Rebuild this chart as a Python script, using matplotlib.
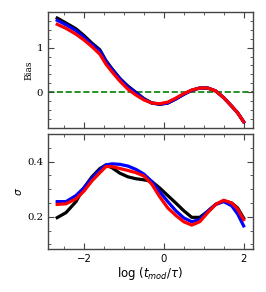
import numpy as np
import matplotlib
matplotlib.use("Agg")
from matplotlib import pyplot as plt
from matplotlib.ticker import MultipleLocator

# valores
logt = [-2.67, -2.45, -2.2, -2.0, -1.8, -1.6, -1.45, -1.3, -1.1, -0.9, -0.7, -0.5,
        -0.3, -0.1, 0.1, 0.3, 0.5, 0.7, 0.9, 1.1, 1.3, 1.5, 1.7, 1.85, 2.0]

bias_negro = [1.66, 1.55, 1.42, 1.27, 1.10, 0.95, 0.71, 0.53, 0.31, 0.14, 0.00, -0.14,
              -0.24, -0.27, -0.24, -0.15, -0.045, 0.045, 0.095, 0.095, 0.03, -0.12, -0.31, -0.46, -0.66]
bias_azul = [1.61, 1.51, 1.38, 1.23, 1.07, 0.92, 0.69, 0.51, 0.30, 0.12, -0.01, -0.15,
             -0.24, -0.265, -0.24, -0.15, -0.045, 0.045, 0.095, 0.095, 0.03, -0.12, -0.31, -0.46, -0.66]
bias_rojo = [1.52, 1.43, 1.30, 1.17, 1.02, 0.85, 0.63, 0.46, 0.25, 0.07, -0.06, -0.17,
             -0.24, -0.255, -0.22, -0.13, -0.03, 0.05, 0.095, 0.095, 0.03, -0.12, -0.31, -0.46, -0.66]

sigma_negro = [0.197, 0.215, 0.255, 0.305, 0.345, 0.375, 0.388, 0.378, 0.358, 0.345, 0.338, 0.334,
               0.328, 0.304, 0.277, 0.25, 0.222, 0.198, 0.198, 0.22, 0.245, 0.258, 0.25, 0.232, 0.195]
sigma_azul = [0.255, 0.255, 0.277, 0.305, 0.34, 0.37, 0.388, 0.392, 0.39, 0.384, 0.372, 0.355,
              0.328, 0.29, 0.255, 0.222, 0.196, 0.182, 0.19, 0.22, 0.245, 0.255, 0.24, 0.21, 0.167]
sigma_rojo = [0.245, 0.247, 0.265, 0.293, 0.33, 0.36, 0.382, 0.382, 0.375, 0.368, 0.36, 0.348,
              0.318, 0.272, 0.232, 0.205, 0.182, 0.17, 0.182, 0.215, 0.245, 0.26, 0.25, 0.228, 0.19]

fig = plt.figure(figsize=(2.66, 2.92), dpi=100)
ax1 = fig.add_axes([0.180, 0.563, 0.771, 0.395])
ax2 = fig.add_axes([0.180, 0.147, 0.771, 0.394], sharex=ax1)

ax1.axhline(0, color="green", ls="--", lw=1.2, zorder=1)
for ax, curvas in ((ax1, (bias_negro, bias_azul, bias_rojo)), (ax2, (sigma_negro, sigma_azul, sigma_rojo))):
    for y, c in zip(curvas, ("k", "b", "r")):
        ax.plot(logt, y, color=c, lw=2.3, zorder=2)

ax1.set_ylim(-0.79, 1.79)
ax2.set_ylim(0.083, 0.50)

ax1.yaxis.set_major_locator(MultipleLocator(1))
ax1.yaxis.set_minor_locator(MultipleLocator(0.2))
ax2.yaxis.set_major_locator(MultipleLocator(0.2))
ax2.yaxis.set_minor_locator(MultipleLocator(0.05))
ax2.xaxis.set_major_locator(MultipleLocator(2))
ax2.xaxis.set_minor_locator(MultipleLocator(0.5))

for ax in (ax1, ax2):
    ax.tick_params(which="both", direction="in", top=True, right=True, color="#444444")
    ax.tick_params(which="major", length=4.5, width=0.8, labelsize=7.3)
    ax.tick_params(which="minor", length=2.2, width=0.6)
    for s in ax.spines.values():
        s.set_color("#444444")
        s.set_linewidth(1.0)
    for t in ax.get_yticklabels():
        t.set_fontfamily("DejaVu Serif")

plt.setp(ax1.get_xticklabels(), visible=False)

ax1.set_ylabel("Bias", family="DejaVu Serif", fontsize=6.5, labelpad=2)
ax2.set_ylabel(r"$\sigma$", fontsize=7.5, labelpad=2)
ax2.set_xlabel(r"log ($t_{mod}/\tau$)", fontsize=8.5, labelpad=1)

plt.savefig("out.png", dpi=100)
plt.close()
